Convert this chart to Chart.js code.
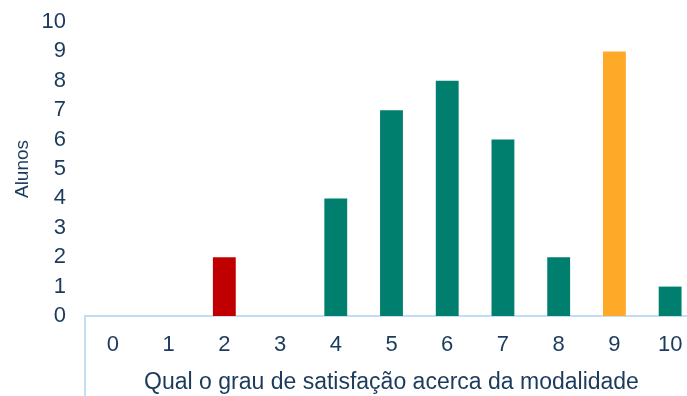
<!DOCTYPE html>
<html>
<head>
<meta charset="utf-8">
<script src="https://cdn.jsdelivr.net/npm/chart.js@4.4.0/dist/chart.umd.min.js"></script>
<style>
  html, body { margin: 0; padding: 0; background: #fff; overflow: hidden; }
  #grafico { display: block; }
</style>
</head>
<body>
<canvas id="grafico" width="700" height="396"></canvas>
<script>
// notas de satisfação e número de alunos em cada uma
const notas = ['0', '1', '2', '3', '4', '5', '6', '7', '8', '9', '10'];
const alunos = [0, 0, 2, 0, 4, 7, 8, 6, 2, 9, 1];
const marcasY = [0, 1, 2, 3, 4, 5, 6, 7, 8, 9, 10];

const verde = '#007F6E';
const vermelho = '#C00000';
const laranja = '#FFA928';
const texto = '#1B3A5C';
const azulClaro = '#C2DEF5';

const cores = notas.map(n => n === '2' ? vermelho : (n === '9' ? laranja : verde));

// ****** linha vertical do lado esquerdo da caixa do eixo X ******
const caixaEixo = {
  id: 'caixaEixo',
  afterDraw(chart) {
    const { ctx, chartArea } = chart;
    ctx.save();
    ctx.strokeStyle = azulClaro;
    ctx.lineWidth = 2;
    ctx.beginPath();
    ctx.moveTo(chartArea.left, chartArea.bottom);
    ctx.lineTo(chartArea.left, chart.height);
    ctx.stroke();
    ctx.restore();
  }
};

const fonte = "'Liberation Sans', Arial, sans-serif";

new Chart(document.getElementById('grafico').getContext('2d'), {
  type: 'bar',
  data: {
    labels: notas,
    datasets: [{
      data: alunos,
      backgroundColor: cores,
      barPercentage: 0.41,
      categoryPercentage: 1
    }]
  },
  options: {
    responsive: false,
    animation: false,
    layout: { padding: { top: 22, right: 2, bottom: 0, left: 0 } },
    plugins: {
      legend: { display: false },
      tooltip: { enabled: false }
    },
    scales: {
      x: {
        afterFit(axis) { axis.height = 80; },
        grid: { display: false, drawTicks: false },
        border: { display: true, color: azulClaro, width: 2 },
        ticks: { color: texto, font: { family: fonte, size: 22 }, padding: 16 },
        title: {
          display: true,
          text: 'Qual o grau de satisfação acerca da modalidade',
          color: texto,
          font: { family: fonte, size: 23 },
          padding: { top: 10, bottom: 0 }
        }
      },
      y: {
        min: 0,
        max: 10,
        afterFit(axis) {
          axis.width = 85;
          axis.paddingTop = 0;
          axis.paddingBottom = 0;
        },
        afterBuildTicks(axis) { axis.ticks = marcasY.map(v => ({ value: v })); },
        grid: { display: false, drawTicks: false },
        border: { display: false },
        ticks: { color: texto, font: { family: fonte, size: 22 }, padding: 19, autoSkip: false },
        title: {
          display: true,
          text: 'Alunos',
          color: texto,
          font: { family: fonte, size: 19 },
          padding: { top: 11, bottom: 0 }
        }
      }
    }
  },
  plugins: [caixaEixo]
});
</script>
</body>
</html>
